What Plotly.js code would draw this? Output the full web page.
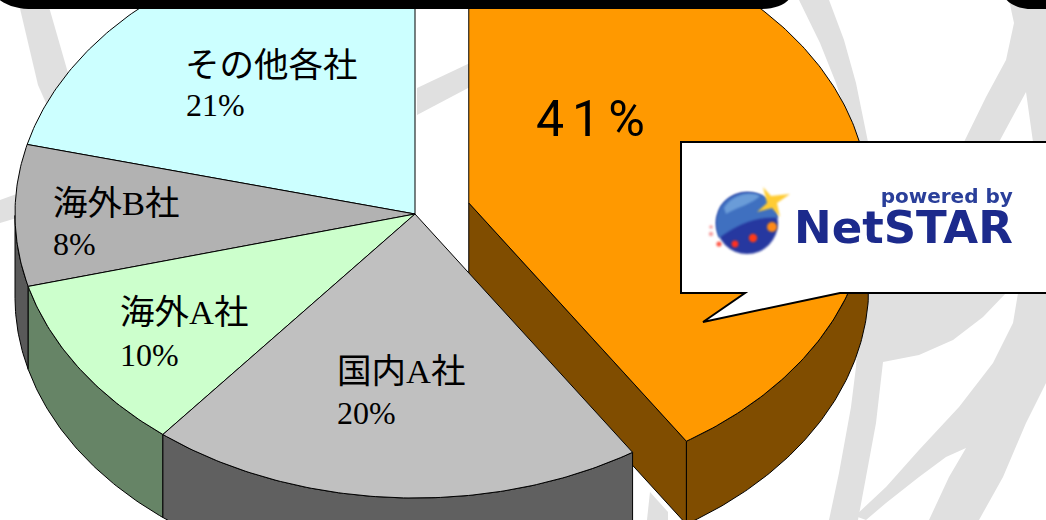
<!DOCTYPE html>
<html lang="ja">
<head>
<meta charset="utf-8">
<script src="https://cdn.plot.ly/plotly-3.0.1.min.js"></script>
<style>
  html, body { margin: 0; padding: 0; background: #fff; }
  #chart { width: 1046px; height: 520px; }
  .spaced text { letter-spacing: 8px; }
</style>
</head>
<body>
<div id="chart"></div>
<script>
// Market share by vendor, listed counter-clockwise from twelve o'clock.
const companies = ['その他各社', '海外B社', '海外A社', '国内A社', ''];
const shares = [21, 8, 10, 20, 41];
const topColors = ['#ccffff', '#b2b2b2', '#ccffcc', '#c0c0c0', '#ff9900'];
const sideColors = ['#668080', '#595959', '#668466', '#606060', '#804d00'];

// Projection of the tilted disc, in pixels.
const cx = 415, cy = 214, rx = 400, ry = 284, depth = 83, explodePx = 56;
const explodedSlice = 4;
// Slight foreshortening of the rim towards the viewer, in degrees.
const foreshorten = 0.6;

// Left edge and vertical centre of the name and share labels.
const nameAnchors = [[184, 65], [52, 203], [119, 312], [336, 371]];
const shareAnchors = [[185, 105], [52, 244], [119, 355], [336, 413], [547, 119]];

const total = shares.reduce((a, b) => a + b, 0);
const rad = d => d * Math.PI / 180;
// theta is measured counter-clockwise from twelve o'clock.
const warp = theta => theta + foreshorten * Math.sin(rad(theta / 2)) ** 2;
const onRim = (c, theta, drop = 0) => {
  const t = warp(theta);
  return [c[0] - rx * Math.sin(rad(t)), c[1] - ry * Math.cos(rad(t)) + drop];
};
const arc = (c, a0, a1, drop = 0) => {
  const n = Math.max(2, Math.ceil(Math.abs(a1 - a0) * 1.5));
  const pts = [];
  for (let i = 0; i <= n; i++) pts.push(onRim(c, a0 + (a1 - a0) * i / n, drop));
  return pts;
};
const polygon = (pts, fill) => ({
  type: 'scatter', mode: 'lines', hoverinfo: 'skip', showlegend: false,
  x: pts.map(p => p[0]).concat(pts[0][0]),
  y: pts.map(p => p[1]).concat(pts[0][1]),
  fill: 'toself', fillcolor: fill,
  line: { color: '#000', width: 1 }
});

let running = 0;
const slices = shares.map((v, i) => {
  const a0 = running / total * 360;
  running += v;
  const a1 = running / total * 360;
  const mid = (a0 + a1) / 2;
  const c = i === explodedSlice
    ? [cx - explodePx * Math.sin(rad(mid)), cy - explodePx * (ry / rx) * Math.cos(rad(mid))]
    : [cx, cy];
  return { a0, a1, c, i };
});

const wall = s => {
  // The outer wall shows only along the front half of the rim.
  const f0 = Math.max(s.a0, 90), f1 = Math.min(s.a1, 270);
  return f1 > f0 ? [polygon(arc(s.c, f0, f1).concat(arc(s.c, f1, f0, depth)), sideColors[s.i])] : [];
};
const face = s => polygon([s.c].concat(arc(s.c, s.a0, s.a1)), topColors[s.i]);

const traces = [];
// The pulled-out slice sits behind the rest of the disc.
slices.filter(s => s.i === explodedSlice).forEach(s => {
  const rim = onRim(s.c, s.a0);
  traces.push(...wall(s));
  traces.push(polygon([s.c, rim, [rim[0], rim[1] + depth], [s.c[0], s.c[1] + depth]], sideColors[s.i]));
  traces.push(face(s));
});
const rest = slices.filter(s => s.i !== explodedSlice);
rest.forEach(s => traces.push(...wall(s)));
rest.forEach(s => traces.push(face(s)));

// Helpers for page furniture.
const pathOf = pts => 'M' + pts.map(p => p.join(',')).join('L') + 'Z';
const swoosh = pts => ({ type: 'path', layer: 'below', path: pathOf(pts), fillcolor: '#e0e0e0', line: { width: 0 } });
const dot = (x, y, r, fill) => ({ type: 'circle', layer: 'above', x0: x - r, x1: x + r, y0: y - r, y1: y + r, fillcolor: fill, line: { width: 0 } });
const patch = (d, fill, lineSpec) => ({ type: 'path', layer: 'above', path: d, fillcolor: fill, line: lineSpec || { width: 0 } });

// Pale watermark strokes behind the pie.
const watermark = [
  [[18, 0], [47, 0], [70, 80], [50, 112], [38, 85]],
  [[0, 200], [22, 192], [20, 217], [0, 223]],
  [[417, 88], [470, 63], [470, 87], [417, 115]],
  [[799, 0], [829, 0], [844, 40], [856, 83], [868, 142], [855, 142], [836, 83], [820, 43]],
  [[1009, 0], [1046, 0], [1046, 142], [1033, 142], [1026, 92], [999, 142], [964, 142], [986, 97], [1006, 60], [1014, 23]],
  [[860, 293], [1006, 293], [983, 317], [953, 340], [919, 355], [883, 362], [876, 423], [866, 477], [858, 520], [829, 520], [839, 473], [851, 407], [856, 367]],
  [[1018, 293], [1046, 293], [1046, 383], [1026, 423], [1003, 477], [979, 520], [929, 520], [949, 477], [966, 448], [946, 457], [919, 477], [886, 503], [866, 520], [855, 516], [886, 487], [919, 450], [959, 407], [993, 363], [1013, 323]],
  [[647, 520], [650, 492], [668, 512], [668, 520]]
].map(swoosh);

// Rounded black banners along the top edge.
const banners = [
  patch('M-20,-30 L-20,-30 C-10,0 8,9 33,9 L761,9 C776,9 786,4 790,-2 L790,-30 Z', '#000'),
  patch('M1005,-30 L1005,-2 C1010,5 1020,9 1032,9 L1060,9 L1060,-30 Z', '#000')
];

// Speech bubble holding the vendor mark.
const bubble = patch('M681,142 L1060,142 L1060,293 L840,293 L703,322 L745,293 L681,293 Z', '#fff', { color: '#000', width: 2 });

// Globe with star, drawn from simple shapes.
const logoShapes = [
  dot(711, 227, 1.8, '#f6a0a0'), dot(711, 234, 2.2, '#f6a0a0'), dot(719, 244, 2.6, '#ff5a4a'),
  dot(747, 223, 31, '#2638a0'),
  patch('M718,213 C722,196 745,188 762,195 C770,199 776,208 778,218 C755,216 735,226 719,238 C716,230 715,220 718,213 Z', '#3f70c0'),
  patch('M724,208 C730,197 748,190 760,196 C752,204 738,207 726,214 Z', '#6a9cd8'),
  patch('M763,187 L771,196 L790,194 L777,203 L780,217 L772,208 L757,212 L767,203 Z', '#ffcc33'),
  dot(735, 244, 3.4, '#ff3020'), dot(753, 238, 4.2, '#ff3a18'), dot(772, 227, 5, '#ff8a18')
];
const shapes = [...watermark, ...banners, bubble, ...logoShapes];
const logoShapeStart = watermark.length + banners.length + 1;

// Labels: Latin glyphs and digits in serif, kana and kanji in gothic.
const labelFont = '"Liberation Serif","Noto Sans CJK JP",serif';
const label = (x, y, text, font) => ({
  xref: 'x', yref: 'y', x, y, text, showarrow: false, xanchor: 'left', yanchor: 'middle',
  borderpad: 0, font
});
const annotations = [];
companies.forEach((name, i) => {
  if (name) annotations.push(label(nameAnchors[i][0], nameAnchors[i][1], name, { family: labelFont, size: 34.5, color: '#000' }));
});
shares.forEach((v, i) => {
  const big = i === explodedSlice;
  annotations.push(label(shareAnchors[i][0], shareAnchors[i][1], v + '%',
    big ? { family: 'Roboto,sans-serif', size: 50, color: '#000' }
        : { family: labelFont, size: 32, color: '#000' }));
});
const bigIndex = annotations.length - 1;
const logoTextStart = annotations.length;
// The two lines of the vendor mark share one text block.
annotations.push({
  xref: 'x', yref: 'y', x: 1014, y: 219, showarrow: false, xanchor: 'right', yanchor: 'middle', align: 'right', borderpad: 0,
  text: '<span style="font-size:20px;color:#2a3f9a"><b>powered by</b></span><br><span style="font-size:45px"><b>NetSTAR</b></span>',
  font: { family: '"DejaVu Sans",sans-serif', size: 31, color: '#1c2a8c' }
});

const layout = {
  width: 1046, height: 520,
  margin: { l: 0, r: 0, t: 0, b: 0 },
  paper_bgcolor: '#fff', plot_bgcolor: 'rgba(0,0,0,0)',
  showlegend: false,
  xaxis: { range: [0, 1046], visible: false, fixedrange: true },
  yaxis: { range: [520, 0], visible: false, fixedrange: true },
  shapes, annotations
};

Plotly.newPlot('chart', traces, layout, { displayModeBar: false, staticPlot: true }).then(() => {
  // The vendor mark is a soft emblem, so its parts get a slight blur.
  document.querySelectorAll('.shapelayer path').forEach(p => {
    const idx = +p.getAttribute('data-index');
    if (idx >= logoShapeStart) p.style.filter = 'blur(0.8px)';
  });
  document.querySelectorAll('.annotation').forEach(a => {
    const idx = +a.getAttribute('data-index');
    if (idx >= logoTextStart) a.style.filter = 'blur(0.6px)';
    if (idx === bigIndex) a.classList.add('spaced');
  });
});
</script>
</body>
</html>
